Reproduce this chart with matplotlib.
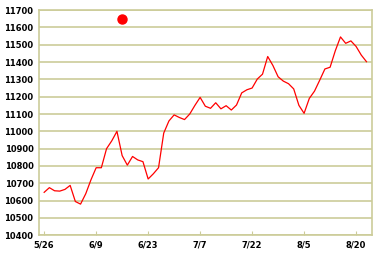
import matplotlib
matplotlib.use("Agg")
import matplotlib.pyplot as plt

# closing values, one per trading day
values = [
    10648, 10675, 10657, 10655, 10665, 10688, 10595, 10580, 10640, 10720,
    10790, 10790, 10900, 10945, 11000, 10860, 10805, 10855, 10835, 10825,
    10725, 10755, 10790, 10990, 11060, 11095, 11080, 11068, 11100, 11150,
    11196, 11145, 11133, 11165, 11130, 11148, 11123, 11152, 11222, 11240,
    11250, 11302, 11330, 11432, 11380, 11315, 11290, 11275, 11245, 11150,
    11104, 11190, 11232, 11295, 11360, 11370, 11465, 11545, 11508, 11522,
    11490, 11440, 11402,
]
tick_pos = [0, 10, 20, 30, 40, 50, 60]
tick_labels = ["5/26", "6/9", "6/23", "7/7", "7/22", "8/5", "8/20"]
y_ticks = list(range(10400, 11701, 100))

# single highlighted point
dot_x = [15]
dot_y = [11650]

grid_color = "#cccc99"

fig = plt.figure(figsize=(3.82, 2.58), dpi=100)
ax = fig.add_axes([0.102, 0.088, 0.871, 0.873])

ax.plot(range(len(values)), values, color="red", linewidth=0.9)
ax.plot(dot_x, dot_y, "o", color="red", markersize=6.5)

ax.set_xlim(-1, 63)
ax.set_ylim(10400, 11700)
ax.set_yticks(y_ticks)
ax.set_xticks(tick_pos)
ax.set_xticklabels(tick_labels)

ax.yaxis.grid(True, color=grid_color, linewidth=1.2)
ax.set_axisbelow(True)
for side in ax.spines.values():
    side.set_color(grid_color)
    side.set_linewidth(1.2)

ax.tick_params(axis="y", length=0, pad=4, labelsize=6)
ax.tick_params(axis="x", direction="in", length=3, color=grid_color,
               pad=4, labelsize=6)
for lbl in ax.get_xticklabels() + ax.get_yticklabels():
    lbl.set_fontweight("bold")

plt.savefig("out.png", dpi=100)
plt.close()
